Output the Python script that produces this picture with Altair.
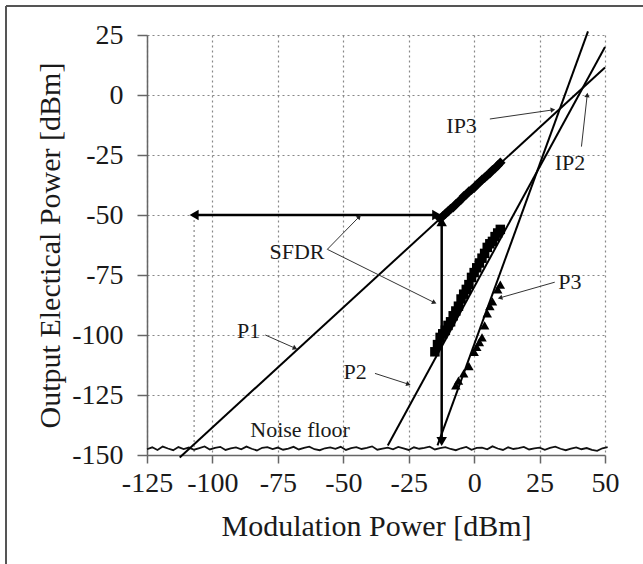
import math
import altair as alt
import pandas as pd

# ---------------- data ----------------
# fitted lines (slope 1, 2, 3) endpoints
line_series = ["P1", "P1", "P2", "P2", "P3", "P3"]
line_x = [-112.5, 50.0, -33.0, 50.0, -14.0, 43.5]
line_y = [-151.0, 11.5, -146.0, 20.0, -146.0, 26.5]

# measured fundamental (diamonds)
p1_x = [-13, -12, -11, -10, -9, -8, -7, -6, -5, -4, -3, -2, -1, 0, 1, 2, 3, 4, 5, 6, 7, 8, 9, 10]
p1_y = [-51.5, -50.5, -49.5, -48.5, -47.5, -46.8, -45.5, -44.6, -43.5, -42.2, -41.5, -40.2,
        -39.5, -38.6, -37.4, -36.5, -35.3, -34.5, -33.4, -32.6, -31.3, -30.5, -29.4, -28.2]

# measured 2nd order (squares)
p2_x = [-15, -14, -13, -12, -11, -10, -9, -8, -7, -6, -5, -4, -3, -2, -1, 0, 1, 2, 3, 4, 5, 6, 7, 8, 9, 10]
p2_y = [-107, -104, -101, -99.5, -98, -96, -94.5, -92, -90, -88, -85, -83, -81, -79, -76, -74,
        -72, -70, -68, -66, -63.5, -62, -61, -59, -57.5, -56]

# measured 3rd order (triangles)
p3_x = [-7, -6, -4, -2, 0, 1, 2, 3, 4, 5, 6, 7, 9, 10]
p3_y = [-121, -119, -116, -113, -107, -105, -103, -101, -96, -91, -88, -86, -81, -79]

# noise floor
noise_x = list(range(-125, 52, 2))
noise_y = [-147.6, -146.8, -147.9, -146.5, -147.3, -148.0, -146.7, -147.5, -146.9, -147.8,
           -147.1, -146.4, -147.7, -147.0, -146.6, -147.9, -147.2, -146.8, -147.6, -146.5,
           -147.4, -148.1, -147.0, -146.7, -147.5, -146.9, -147.8, -147.3, -146.6, -147.7,
           -147.0, -146.5, -147.6, -148.0, -147.2, -146.8, -147.4, -146.6, -147.9, -147.1,
           -146.7, -147.5, -147.0, -146.4, -147.8, -147.3, -146.9, -147.6, -146.6, -147.2,
           -147.9, -146.8, -147.4, -147.0, -146.5, -147.7, -147.1, -146.7, -147.5, -148.0,
           -147.2, -146.6, -147.8, -147.0, -146.9, -147.6, -146.4, -147.3, -147.9, -146.8,
           -147.5, -147.1, -146.6, -147.7, -147.2, -146.9, -147.8, -147.0, -146.5, -147.4,
           -148.0, -147.3, -146.8, -147.6, -147.1, -147.9, -148.3, -147.2, -146.7]

# SFDR arrows
sfdr_h_x = [-107.0, -14.3]
sfdr_h_y = [-50.0, -50.0]
sfdr_v_x = [-12.4, -12.4]
sfdr_v_y = [-52.8, -144.4]
drop_x = [-107.0, -107.0]
drop_y = [-50.0, -150.0]

# annotation texts and pointer arrows
lab_text = ["IP3", "IP2", "SFDR", "P1", "P2", "P3", "Noise floor"]
lab_x = [-4.8, 36.6, -67.7, -86.2, -45.5, 36.6, -66.5]
lab_y = [-12.9, -28.2, -65.3, -98.3, -115.3, -77.8, -139.6]

ann_from_x = [6.0, 41.0, -56.1, -56.1, -79.8, -37.9, 30.8]
ann_from_y = [-10.0, -21.5, -64.3, -64.3, -100.0, -116.0, -78.0]
ann_to_x = [30.1, 43.2, -43.9, -15.2, -68.4, -25.1, 9.9]
ann_to_y = [-6.2, 0.0, -50.7, -86.5, -105.5, -120.5, -84.5]

x_ticks = [-125, -100, -75, -50, -25, 0, 25, 50]
y_ticks = [-150, -125, -100, -75, -50, -25, 0, 25]

# ---------------- layout ----------------
W, H = 458, 420
X_DOM = [-125, 50]
Y_DOM = [-150, 25]
kx = W / (X_DOM[1] - X_DOM[0])
ky = H / (Y_DOM[1] - Y_DOM[0])

FONT = "Liberation Serif"
TXT = "#1a1a1a"

xs = alt.Scale(domain=X_DOM, nice=False, zero=False)
ys = alt.Scale(domain=Y_DOM, nice=False, zero=False)

common = dict(grid=True, gridDash=[2, 3], gridColor="#888", gridWidth=1.2,
              domainColor="#666", domainWidth=1.5, tickColor="#666", tickWidth=1.5,
              labelFontSize=28, labelFont=FONT, labelColor=TXT,
              titleFont=FONT, titleFontSize=30, titleFontWeight="normal", titleColor=TXT,
              labelFlush=False, labelOverlap=False, labelExpr="'' + datum.value")

xaxis = alt.Axis(values=x_ticks, title="Modulation Power [dBm]", tickSize=8,
                 labelPadding=6, titlePadding=14, **common)
yaxis = alt.Axis(values=y_ticks, title="Output Electical Power [dBm]", tickSize=10,
                 labelPadding=14, titlePadding=6, **common)


def X(f):
    return alt.X(f, type="quantitative", scale=xs, axis=xaxis)


def Y(f):
    return alt.Y(f, type="quantitative", scale=ys, axis=yaxis)


def head_angle(x1, y1, x2, y2):
    dx = (x2 - x1) * kx
    dy = -(y2 - y1) * ky
    return math.degrees(math.atan2(dx, -dy)) % 360


# ---------------- tables ----------------
lines_df = pd.DataFrame({"s": line_series, "x": line_x, "y": line_y})
noise_df = pd.DataFrame({"x": noise_x, "y": noise_y})
p1_df = pd.DataFrame({"x": p1_x, "y": p1_y})
p2_df = pd.DataFrame({"x": p2_x, "y": p2_y})
p3_df = pd.DataFrame({"x": p3_x, "y": p3_y})
lab_df = pd.DataFrame({"t": lab_text, "x": lab_x, "y": lab_y})
ann_df = pd.DataFrame({"x": ann_from_x, "y": ann_from_y, "x2": ann_to_x, "y2": ann_to_y})
ann_df["a"] = [head_angle(a, b, c, d) for a, b, c, d in
               zip(ann_from_x, ann_from_y, ann_to_x, ann_to_y)]
sfdr_rules = pd.DataFrame({"x": [sfdr_h_x[0], sfdr_v_x[0]], "y": [sfdr_h_y[0], sfdr_v_y[0]],
                           "x2": [sfdr_h_x[1], sfdr_v_x[1]], "y2": [sfdr_h_y[1], sfdr_v_y[1]]})
heads_df = pd.DataFrame({
    "x": [sfdr_h_x[0], sfdr_h_x[1], sfdr_v_x[0], sfdr_v_x[1]],
    "y": [sfdr_h_y[0], sfdr_h_y[1], sfdr_v_y[0], sfdr_v_y[1]],
    "a": [270, 90, 0, 180],
})
drop_df = pd.DataFrame({"x": [drop_x[0]], "y": [drop_y[0]], "x2": [drop_x[1]], "y2": [drop_y[1]]})

# ---------------- layers ----------------
drop = alt.Chart(drop_df).mark_rule(color="#888", strokeDash=[2, 3], strokeWidth=1.2).encode(
    x=X("x"), y=Y("y"), y2="y2")

noise = alt.Chart(noise_df).mark_line(color="#111", strokeWidth=1.8).encode(x=X("x"), y=Y("y"))

lines = alt.Chart(lines_df).mark_line(color="#000", strokeWidth=2).encode(
    x=X("x"), y=Y("y"), detail="s:N")

m1 = alt.Chart(p1_df).mark_point(shape="diamond", filled=True, size=110, color="#000",
                                 opacity=1).encode(x=X("x"), y=Y("y"))
m2 = alt.Chart(p2_df).mark_point(shape="square", filled=True, size=90, color="#000",
                                 opacity=1).encode(x=X("x"), y=Y("y"))
m3 = alt.Chart(p3_df).mark_point(shape="triangle-up", filled=True, size=90, color="#000",
                                 opacity=1).encode(x=X("x"), y=Y("y"))

sfdr = alt.Chart(sfdr_rules).mark_rule(color="#000", strokeWidth=2.5).encode(
    x=X("x"), y=Y("y"), x2="x2", y2="y2")
heads = alt.Chart(heads_df).mark_point(shape="triangle-up", filled=True, size=110,
                                       color="#000", opacity=1).encode(
    x=X("x"), y=Y("y"), angle=alt.Angle("a:Q", scale=None))

ann = alt.Chart(ann_df).mark_rule(color="#333", strokeWidth=1).encode(
    x=X("x"), y=Y("y"), x2="x2", y2="y2")
ann_heads = alt.Chart(ann_df).mark_point(shape="triangle-up", filled=True, size=28,
                                         color="#222", opacity=1).encode(
    x=X("x2"), y=Y("y2"), angle=alt.Angle("a:Q", scale=None))

labels = alt.Chart(lab_df).mark_text(font=FONT, fontSize=22, color=TXT, align="center",
                                     baseline="middle").encode(x=X("x"), y=Y("y"), text="t:N")

frame_top = alt.Chart(alt.Data(values=[{}])).mark_rule(color="#555", strokeWidth=2).encode(
    x=alt.value(-141), x2=alt.value(643 - 147), y=alt.value(-29))
frame_left = alt.Chart(alt.Data(values=[{}])).mark_rule(color="#555", strokeWidth=2).encode(
    x=alt.value(-141), y=alt.value(-29), y2=alt.value(564 - 35))

chart = alt.layer(
    drop, noise, lines, m1, m2, m3, sfdr, heads, ann, ann_heads, labels, frame_top, frame_left
).properties(
    width=W, height=H,
    autosize=alt.AutoSizeParams(type="none"),
    padding={"left": 147, "top": 35, "right": 643 - 147 - W, "bottom": 564 - 35 - H},
    background="white",
).configure_view(stroke=None)

chart.save("out.html", embed_options={"renderer": "svg", "actions": False})
